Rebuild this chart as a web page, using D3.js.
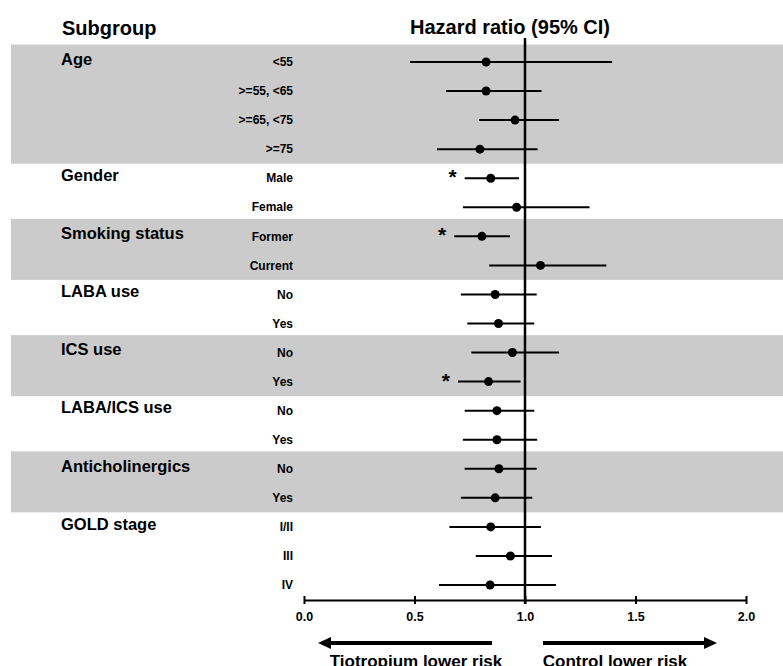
<!DOCTYPE html>
<html>
<head>
<meta charset="utf-8">
<script src="https://cdn.jsdelivr.net/npm/d3@7"></script>
<style>
  body { margin: 0; background: #fff; }
  svg { display: block; font-family: "Liberation Sans", Arial, sans-serif; font-weight: bold; }
</style>
</head>
<body>
<svg id="chart" width="783" height="666"></svg>
<script>
// group names and the index of the group each row belongs to
const groups = ["Age", "Gender", "Smoking status", "LABA use", "ICS use", "LABA/ICS use", "Anticholinergics", "GOLD stage"];
const rowGroup = [0, 0, 0, 0, 1, 1, 2, 2, 3, 3, 4, 4, 5, 5, 6, 6, 7, 7, 7];
const rowLabels = ["<55", ">=55, <65", ">=65, <75", ">=75", "Male", "Female", "Former", "Current",
  "No", "Yes", "No", "Yes", "No", "Yes", "No", "Yes", "I/II", "III", "IV"];

// hazard ratios with 95% CI
const hr    = [0.824, 0.824, 0.955, 0.796, 0.845, 0.962, 0.805, 1.070, 0.865, 0.880, 0.943, 0.835, 0.873, 0.873, 0.882, 0.865, 0.845, 0.934, 0.842];
const lower = [0.480, 0.643, 0.792, 0.602, 0.727, 0.719, 0.680, 0.838, 0.710, 0.739, 0.757, 0.697, 0.727, 0.719, 0.727, 0.710, 0.658, 0.777, 0.611];
const upper = [1.394, 1.075, 1.154, 1.057, 0.973, 1.292, 0.932, 1.368, 1.053, 1.042, 1.154, 0.980, 1.042, 1.055, 1.053, 1.033, 1.072, 1.122, 1.140];
const signif = [0, 0, 0, 0, 1, 0, 1, 0, 0, 0, 0, 1, 0, 0, 0, 0, 0, 0, 0];

const xTicks = [0, 0.5, 1, 1.5, 2];

const svg = d3.select("#chart");

// scales
const x = d3.scaleLinear().domain([0, 2]).range([304, 746]);
const y = d3.scalePoint().domain(d3.range(rowLabels.length)).range([62, 585]);
const step = y.step();

// alternating grey bands, one per even group
groups.forEach((g, gi) => {
  const rows = d3.range(rowLabels.length).filter(i => rowGroup[i] === gi);
  const top = y(rows[0]) - step * 0.6;
  const bottom = y(rows[rows.length - 1]) + step * 0.5;
  if (gi % 2 === 0) {
    svg.append("rect")
      .attr("x", 11).attr("y", top)
      .attr("width", 783 - 11).attr("height", bottom - top)
      .attr("fill", "#cbcbcb");
  }
  svg.append("text")
    .attr("x", 61).attr("y", y(rows[0]) - 3)
    .attr("dy", "0.35em")
    .style("font-size", "16.5px")
    .text(g);
});

// headers
svg.append("text")
  .attr("x", 62).attr("y", 28).attr("dy", "0.35em")
  .style("font-size", "20px")
  .text("Subgroup");

svg.append("text")
  .attr("x", 510).attr("y", 27).attr("dy", "0.35em")
  .attr("text-anchor", "middle")
  .style("font-size", "20px")
  .text("Hazard ratio (95% CI)");

// row labels
svg.selectAll(".rowlab")
  .data(rowLabels)
  .enter().append("text")
  .attr("class", "rowlab")
  .attr("x", 293)
  .attr("y", (d, i) => y(i))
  .attr("dy", "0.35em")
  .attr("text-anchor", "end")
  .style("font-size", "12px")
  .text(d => d);

// axis
const axisY = 600;
const axis = svg.append("g")
  .attr("transform", `translate(0,${axisY})`)
  .call(d3.axisBottom(x).tickValues(xTicks).tickFormat(d3.format(".1f")).tickSizeOuter(0).tickSizeInner(4));
axis.select(".domain").attr("stroke-width", 2);
axis.selectAll(".tick line").attr("y1", -4).attr("y2", 4).attr("stroke-width", 2);
axis.selectAll(".tick text")
  .attr("y", 17).attr("dy", "0.35em")
  .style("font-size", "12.5px")
  .style("font-family", "'Liberation Sans', Arial, sans-serif")
  .style("font-weight", "bold")
  .attr("fill", "#000");

// reference line at 1
svg.append("line")
  .attr("x1", x(1)).attr("x2", x(1))
  .attr("y1", 38).attr("y2", axisY + 4)
  .attr("stroke", "#000").attr("stroke-width", 2.5);

// CI lines
svg.selectAll(".ci")
  .data(hr)
  .enter().append("line")
  .attr("class", "ci")
  .attr("x1", (d, i) => x(lower[i]))
  .attr("x2", (d, i) => x(upper[i]))
  .attr("y1", (d, i) => y(i))
  .attr("y2", (d, i) => y(i))
  .attr("stroke", "#000").attr("stroke-width", 2);

// points
svg.selectAll(".pt")
  .data(hr)
  .enter().append("circle")
  .attr("class", "pt")
  .attr("cx", d => x(d))
  .attr("cy", (d, i) => y(i))
  .attr("r", 4.5)
  .attr("fill", "#000");

// significance stars
svg.selectAll(".star")
  .data(hr.map((d, i) => i).filter(i => signif[i]))
  .enter().append("text")
  .attr("class", "star")
  .attr("x", i => x(lower[i]) - 8)
  .attr("y", i => y(i) + 6)
  .attr("text-anchor", "end")
  .style("font-size", "21px")
  .text("*");

// direction arrows
const arrowY = 643;
function arrow(x0, x1) {
  const dir = x1 > x0 ? 1 : -1;
  svg.append("line")
    .attr("x1", x0).attr("x2", x1 - dir * 10)
    .attr("y1", arrowY).attr("y2", arrowY)
    .attr("stroke", "#000").attr("stroke-width", 4);
  svg.append("path")
    .attr("d", `M${x1},${arrowY} L${x1 - dir * 13},${arrowY - 6} L${x1 - dir * 13},${arrowY + 6} Z`)
    .attr("fill", "#000");
}
arrow(492, 318);
arrow(543, 717);

svg.append("text")
  .attr("x", 416).attr("y", 661).attr("dy", "0.35em")
  .attr("text-anchor", "middle")
  .style("font-size", "17px")
  .text("Tiotropium lower risk");

svg.append("text")
  .attr("x", 615).attr("y", 661).attr("dy", "0.35em")
  .attr("text-anchor", "middle")
  .style("font-size", "17px")
  .text("Control lower risk");
</script>
</body>
</html>
